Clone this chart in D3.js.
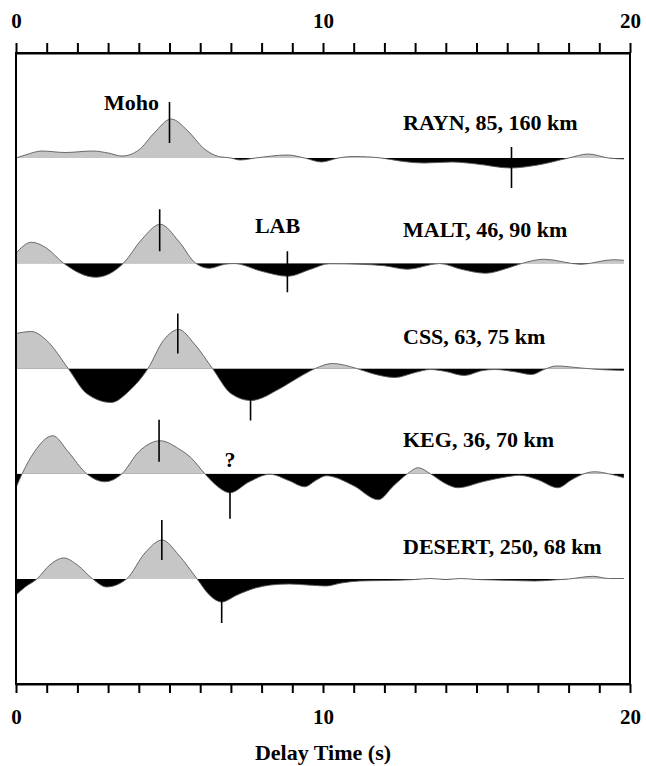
<!DOCTYPE html>
<html><head><meta charset="utf-8">
<script src="https://cdn.jsdelivr.net/npm/d3@7"></script>
<style>body{margin:0;background:#fff}svg{display:block}text{font-family:"Liberation Serif","Times New Roman",serif;font-weight:bold}</style>
</head><body><div id="chart"></div>
<script>
// ---- data ----
const stations = ["RAYN", "MALT", "CSS", "KEG", "DESERT"];
const stationLabels = ["RAYN, 85, 160 km", "MALT, 46, 90 km", "CSS, 63, 75 km", "KEG, 36, 70 km", "DESERT, 250, 68 km"];
const xTicks = [0,1,2,3,4,5,6,7,8,9,10,11,12,13,14,15,16,17,18,19,20];
const xTickLabels = [0, 10, 20];

const raynT = [0,0.3,0.85,1.6,2.5,3.0,3.45,4.0,4.5,5.05,5.6,6.1,6.6,7.0,7.3,7.8,8.85,9.4,9.95,10.5,11.0,11.9,12.5,13.3,14.2,15.0,16.1,17.0,18.0,18.65,19.3,19.8];
const raynA = [0,3,7,5.5,7,5,2,8,25,39,27,10,1.5,0,-2,0,3,0,-4,0,1.5,0,-3,-5,-4,-6,-10,-7,0,4,0,-1];

const maltT = [0,0.5,1.0,1.55,2.6,3.5,4.1,4.7,5.3,5.85,6.3,6.8,7.1,8.0,8.85,9.6,10.2,11.2,12.0,12.75,13.8,14.5,15.3,16.0,16.5,17.2,18.4,19.45,19.8];
const maltA = [10,21,15,0,-14,0,24,39,22,0,-5,-1,-0.3,-8,-13,-6,-0.5,-1,-2.5,-6,-0.3,-6,-10,-5,0,4,-1,3.5,3];

const cssT = [0,0.5,1.0,1.7,2.3,3.1,3.7,4.3,4.8,5.3,5.8,6.4,7.0,7.65,8.6,9.2,9.75,10.3,11.1,11.6,12.35,13.0,13.5,14.0,14.6,15.2,15.6,16.2,16.8,17.2,17.6,18.4,19.0,19.8];
const cssA = [35,37,28,0,-25,-34,-22,0,28,39,25,0,-25,-32,-20,-9,0,5,0,-5,-9,-4,-1,-3,-7,-2,-1,-3,-6,-1,2.5,0.5,-1,-2];

const kegT = [0,0.2,0.6,1.2,1.7,2.3,2.9,3.45,4.0,4.7,5.3,5.7,6.15,6.5,6.97,7.6,8.27,8.9,9.4,9.8,10.1,11.0,11.8,12.3,12.75,13.1,13.5,14.0,14.4,15.2,16.0,16.4,17.0,17.65,18.1,18.5,18.85,19.3,19.8];
const kegA = [-14,0,22,38,22,0,-8,0,22,33,25,16,0,-11,-19,-8,-0.5,-7,-13,-6,-2,-12,-26,-12,0,6,0,-10,-14,-8,-3,-1.5,-6,-14,-6,0,2,0,-4];

const desertT = [0,0.3,0.68,1.1,1.56,2.0,2.5,2.95,3.6,4.2,4.76,5.3,5.9,6.3,6.7,7.2,7.8,8.3,8.9,9.5,10.1,10.6,11.2,12.0,12.9,13.5,14.0,14.5,15.0,15.6,16.2,16.9,17.5,18.0,18.8,19.3,19.8];
const desertA = [-16,-8,0,14,21,14,0,-8,0,26,39,24,0,-16,-23,-16,-9,-6,-5,-6,-7,-4,-2,-1.5,-0.7,0.5,-0.5,0.5,-0.5,-1,-1.5,-2,-1,0,2.7,0.5,0.5];

// picks: station index, time, top amplitude, bottom amplitude
const pickStation = [0, 0, 1, 1, 2, 2, 3, 3, 4, 4];
const pickTime    = [5.0, 16.14, 4.68, 8.84, 5.27, 7.64, 4.66, 6.97, 4.75, 6.7];
const pickTop     = [56, 11, 54, 12, 55, -12, 54, -5, 59, -4];
const pickBottom  = [15, -30, 12, -29, 15, -52, 12, -45, 19, -44];

const annText = ["Moho", "LAB", "?"];
const annStation = [0, 1, 3];
const annTime = [4.66, 8.52, 6.97];

// ---- layout ----
const W = 646, H = 766;
const L = 16, R = 630, T = 53, B = 684;
const labelLift = [28, 26, 25, 27, 25];
const series = [[raynT, raynA],[maltT, maltA],[cssT, cssA],[kegT, kegA],[desertT, desertA]];

const svg = d3.select("#chart").append("svg").attr("width", W).attr("height", H);
const x = d3.scaleLinear().domain([0, 20]).range([L, R]);
const yBase = d3.scalePoint().domain(stations).range([158, 579]);
const amp = d3.scaleLinear().domain([0, 1]).range([0, -1]);

const defs = svg.append("defs");

series.forEach(([ts, as], i) => {
  const base = yBase(stations[i]);
  const pts = ts.map((t, k) => [t, as[k]]);
  const g = svg.append("g");
  const idU = "up" + i, idD = "dn" + i;
  defs.append("clipPath").attr("id", idU).append("rect")
    .attr("x", 0).attr("y", 0).attr("width", W).attr("height", base);
  defs.append("clipPath").attr("id", idD).append("rect")
    .attr("x", 0).attr("y", base).attr("width", W).attr("height", H - base);
  const area = d3.area().curve(d3.curveMonotoneX)
    .x(d => x(d[0])).y0(base).y1(d => base + amp(d[1]));
  const line = d3.line().curve(d3.curveMonotoneX)
    .x(d => x(d[0])).y(d => base + amp(d[1]));
  g.append("path").attr("d", area(pts)).attr("fill", "#c6c6c6").attr("clip-path", `url(#${idU})`);
  g.append("path").attr("d", area(pts)).attr("fill", "#000").attr("clip-path", `url(#${idD})`);
  g.append("path").attr("d", line(pts)).attr("fill", "none").attr("stroke", "#5a5a5a").attr("stroke-width", 0.9);
  svg.append("text").attr("x", 403).attr("y", base - labelLift[i]).attr("font-size", 22).attr("fill", "#000")
    .text(stationLabels[i]);
});

pickTime.forEach((t, k) => {
  const base = yBase(stations[pickStation[k]]);
  svg.append("line").attr("x1", x(t)).attr("x2", x(t))
    .attr("y1", base + amp(pickTop[k])).attr("y2", base + amp(pickBottom[k]))
    .attr("stroke", "#000").attr("stroke-width", 1.6);
});

annText.forEach((s, k) => {
  const base = yBase(stations[annStation[k]]);
  const dy = [ -48, -30, -7 ][k];
  svg.append("text").attr("x", x(annTime[k])).attr("y", base + dy)
    .attr("text-anchor", k === 0 ? "end" : "middle").attr("font-size", 22).text(s);
});

svg.append("rect").attr("x", L).attr("y", T).attr("width", R - L).attr("height", B - T)
  .attr("fill", "none").attr("stroke", "#000").attr("stroke-width", 2);

const fmt = d => xTickLabels.includes(d) ? d : "";
const axTop = svg.append("g").attr("transform", `translate(0,${T})`)
  .call(d3.axisTop(x).tickValues(xTicks).tickFormat(fmt).tickSize(10).tickSizeOuter(0).tickPadding(15));
const axBot = svg.append("g").attr("transform", `translate(0,${B})`)
  .call(d3.axisBottom(x).tickValues(xTicks).tickFormat(fmt).tickSize(9).tickSizeOuter(0).tickPadding(16));
[axTop, axBot].forEach(a => {
  a.select(".domain").attr("stroke-width", 2);
  a.selectAll(".tick line").attr("stroke-width", 2);
  a.selectAll(".tick text").attr("font-size", 21).attr("font-family", "Liberation Serif").attr("font-weight", "bold").attr("fill", "#000");
});

svg.append("text").attr("x", (L + R) / 2).attr("y", 760).attr("text-anchor", "middle")
  .attr("font-size", 22).text("Delay Time (s)");
</script></body></html>
